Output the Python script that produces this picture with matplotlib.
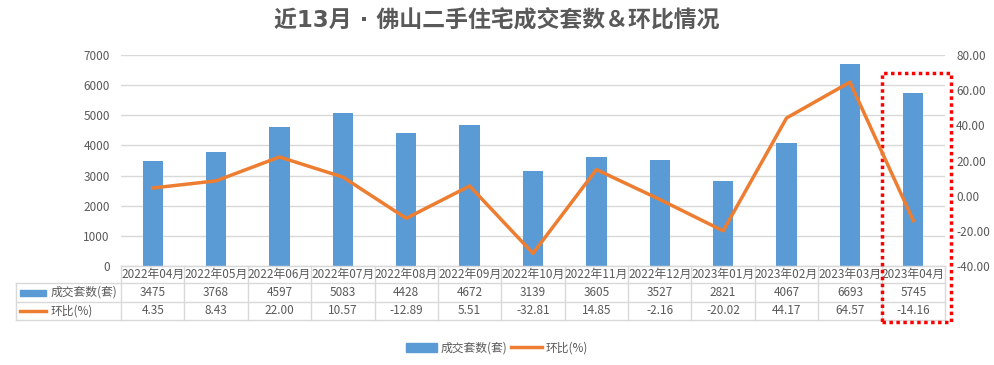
import matplotlib.pyplot as plt
from matplotlib.patches import Rectangle
from matplotlib.lines import Line2D
import matplotlib.transforms as mtransforms

plt.rcParams['font.family'] = ['Noto Sans CJK SC', 'DejaVu Sans']

months = ['2022年04月', '2022年05月', '2022年06月', '2022年07月', '2022年08月',
          '2022年09月', '2022年10月', '2022年11月', '2022年12月', '2023年01月',
          '2023年02月', '2023年03月', '2023年04月']
deals = [3475, 3768, 4597, 5083, 4428, 4672, 3139, 3605, 3527, 2821, 4067, 6693, 5745]
mom = [4.35, 8.43, 22.00, 10.57, -12.89, 5.51, -32.81, 14.85, -2.16, -20.02, 44.17, 64.57, -14.16]

bar_color = '#5B9BD5'
line_color = '#ED7D31'
txt = '#595959'
grid_c = '#D9D9D9'

W, H = 994, 365
fig = plt.figure(figsize=(W / 100, H / 100), dpi=100)
x0, x1, ytop, ybot = 121, 945, 55, 266
ax = fig.add_axes([x0 / W, 1 - ybot / H, (x1 - x0) / W, (ybot - ytop) / H])
ax2 = ax.twinx()

xs = list(range(len(months)))
ax.bar(xs, deals, width=0.32, color=bar_color, zorder=2)
ax.set_xlim(-0.5, len(months) - 0.5)
ax.set_ylim(0, 7000)
ax.set_yticks(range(0, 7001, 1000))
ax.grid(axis='y', color=grid_c, linewidth=1, zorder=0)
ax.set_xticks([])
ax.tick_params(axis='y', length=0, labelsize=8.5, labelcolor=txt, pad=8)

ax2.plot(xs, mom, color=line_color, linewidth=2.5, zorder=3)
ax2.set_ylim(-40, 80)
ax2.set_yticks(range(-40, 81, 20))
ax2.set_yticklabels(['%.2f' % v for v in range(-40, 81, 20)])
ax2.tick_params(axis='y', length=0, labelsize=8.5, labelcolor=txt, pad=8)

for a in (ax, ax2):
    for s in a.spines.values():
        s.set_visible(False)

# data table below the plot
trans = mtransforms.blended_transform_factory(ax.transData, ax.transAxes)
h = ybot - ytop
r0, r1, r2, r3 = 0, -(283 - ybot) / h, -(302 - ybot) / h, -(320 - ybot) / h
left = -(x0 - 16) / (x1 - x0)
n = len(months)
kw = dict(color=grid_c, linewidth=1, clip_on=False)
ax.plot([-0.5, n - 0.5], [r0, r0], transform=trans, **kw)
for r in (r1, r2, r3):
    ax.plot([left, 1], [r, r], transform=ax.transAxes, **kw)
ax.plot([left, left], [r1, r3], transform=ax.transAxes, **kw)
for i in range(n + 1):
    ax.plot([i - 0.5, i - 0.5], [r0, r3], transform=trans, **kw)
for i in range(n):
    ax.text(i, (r0 + r1) / 2, months[i], transform=trans, ha='center', va='center',
            fontsize=8.5, color=txt)
    ax.text(i, (r1 + r2) / 2, str(deals[i]), transform=trans, ha='center', va='center',
            fontsize=8.5, color=txt)
    ax.text(i, (r2 + r3) / 2, '%.2f' % mom[i], transform=trans, ha='center', va='center',
            fontsize=8.5, color=txt)

# legend keys inside table
kx = left + 4 / (x1 - x0)
kw_ = 26 / (x1 - x0)
ax.add_patch(Rectangle((kx, (r1 + r2) / 2 - 3 / h), kw_, 6 / h, transform=ax.transAxes,
                       color=bar_color, clip_on=False))
ax.plot([kx, kx + kw_], [(r2 + r3) / 2] * 2, transform=ax.transAxes, color=line_color,
        linewidth=2.5, clip_on=False)
ax.text(kx + kw_ + 5 / (x1 - x0), (r1 + r2) / 2, '成交套数(套)', transform=ax.transAxes,
        ha='left', va='center', fontsize=8.5, color=txt)
ax.text(kx + kw_ + 5 / (x1 - x0), (r2 + r3) / 2, '环比(%)', transform=ax.transAxes,
        ha='left', va='center', fontsize=8.5, color=txt)

# red dotted highlight on last month
ax.add_patch(Rectangle((n - 1.5, -(322 - ybot) / h), 1.1, (322 - 73) / h, transform=trans,
                       fill=False, edgecolor='#FF0000', linestyle=(0, (1, 1)),
                       linewidth=2.5, clip_on=False, zorder=5))

fig.text(0.5, 1 - 20 / H, '近13月 · 佛山二手住宅成交套数＆环比情况', ha='center', va='center',
         fontsize=16.5, fontweight='bold', color=txt,
         family=['DejaVu Sans', 'Noto Sans CJK SC'])

handles = [Rectangle((0, 0), 1, 1, color=bar_color),
           Line2D([0], [0], color=line_color, linewidth=2.5)]
fig.legend(handles, ['成交套数(套)', '环比(%)'], loc='center', bbox_to_anchor=(0.5, 1 - 348 / H),
           ncol=2, frameon=False, fontsize=8.5, labelcolor=txt, handlelength=2.6,
           columnspacing=0.3, handletextpad=0.3)

fig.savefig('out.png', dpi=100)
